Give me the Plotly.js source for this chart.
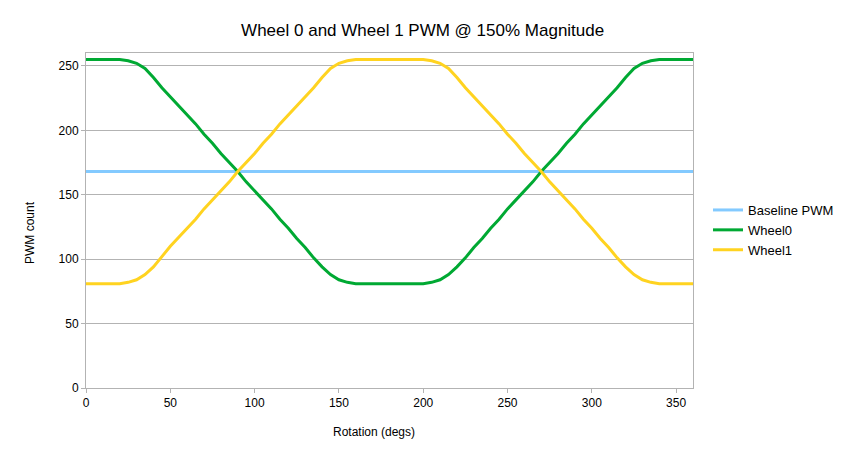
<!DOCTYPE html>
<html>
<head>
<meta charset="utf-8">
<script src="https://cdn.plot.ly/plotly-3.0.1.min.js"></script>
<style>
  html, body { margin: 0; padding: 0; background: #fff; }
  #chart { width: 847px; height: 460px; }
</style>
</head>
<body>
<div id="chart"></div>
<script>
// rotation angle, degrees
const rotation = [
    0, 5, 10, 15, 20, 25, 30, 35, 40, 45, 50, 55, 60, 65, 70, 75, 80, 85, 90,
    95, 100, 105, 110, 115, 120, 125, 130, 135, 140, 145, 150, 155, 160, 165, 170, 175, 180,
    185, 190, 195, 200, 205, 210, 215, 220, 225, 230, 235, 240, 245, 250, 255, 260, 265, 270,
    275, 280, 285, 290, 295, 300, 305, 310, 315, 320, 325, 330, 335, 340, 345, 350, 355, 360
];

const baselineX = [0, 360];
const baselinePwm = [168, 168];

const wheel0 = [
    255, 255, 255, 255, 255, 254, 252, 248, 241, 233, 226, 219, 212, 205, 197, 190, 182, 175, 168,
    160, 153, 146, 139, 131, 124, 116, 109, 101, 94, 88, 84, 82, 81, 81, 81, 81, 81,
    81, 81, 81, 81, 82, 84, 88, 94, 101, 109, 116, 124, 131, 139, 146, 153, 160, 168,
    175, 182, 190, 197, 205, 212, 219, 226, 233, 241, 248, 252, 254, 255, 255, 255, 255, 255
];

const wheel1 = [
    81, 81, 81, 81, 81, 82, 84, 88, 94, 102, 110, 117, 124, 131, 139, 146, 153, 160, 168,
    175, 182, 190, 197, 205, 212, 219, 226, 233, 241, 248, 252, 254, 255, 255, 255, 255, 255,
    255, 255, 255, 255, 254, 252, 248, 241, 233, 226, 219, 212, 205, 197, 190, 182, 175, 168,
    160, 153, 146, 139, 131, 124, 116, 109, 101, 94, 88, 84, 82, 81, 81, 81, 81, 81
];

const font_family = "'Liberation Sans', Arial, sans-serif";

let traces = [
    {
        x: baselineX,
        y: baselinePwm,
        type: "scatter",
        mode: "lines",
        name: "Baseline PWM",
        line: {color: "#83caff", width: 3}
    },
    {
        x: rotation,
        y: wheel0,
        type: "scatter",
        mode: "lines",
        name: "Wheel0",
        line: {color: "#00a933", width: 3}
    },
    {
        x: rotation,
        y: wheel1,
        type: "scatter",
        mode: "lines",
        name: "Wheel1",
        line: {color: "#ffd320", width: 3}
    }
];

let axis_common = {
    gridcolor: "#b3b3b3",
    gridwidth: 1,
    showline: true,
    linecolor: "#b3b3b3",
    linewidth: 1,
    mirror: true,
    ticks: "outside",
    ticklen: 4,
    tickcolor: "#b3b3b3",
    zeroline: false,
    automargin: false,
    tickfont: {family: font_family, size: 12, color: "#000"}
};

let layout = {
    width: 847,
    height: 460,
    paper_bgcolor: "#fff",
    plot_bgcolor: "#fff",
    font: {family: font_family, color: "#000"},
    margin: {l: 86, r: 154, t: 53, b: 72, pad: 0, autoexpand: false},
    title: {
        text: "Wheel 0 and Wheel 1 PWM @ 150% Magnitude",
        font: {family: font_family, size: 17, color: "#000"},
        xref: "container",
        yref: "container",
        x: 0.499,
        xanchor: "center",
        y: 1 - 30 / 460,
        yanchor: "middle"
    },
    xaxis: Object.assign({}, axis_common, {
        showgrid: false,
        range: [0, 360],
        dtick: 50,
        tick0: 0
    }),
    yaxis: Object.assign({}, axis_common, {
        showgrid: true,
        range: [0, 260],
        dtick: 50,
        tick0: 0
    }),
    legend: {
        xref: "container",
        x: 708 / 847,
        xanchor: "left",
        y: (388 - 230) / 335,
        yanchor: "middle",
        font: {family: font_family, size: 13, color: "#000"},
        bgcolor: "rgba(0,0,0,0)",
        tracegroupgap: 0
    },
    annotations: [
        {
            text: "Rotation (degs)",
            xref: "paper",
            yref: "paper",
            x: (374 - 86) / 607,
            y: -(432 - 388) / 335,
            xanchor: "center",
            yanchor: "middle",
            showarrow: false,
            font: {family: font_family, size: 12, color: "#000"}
        },
        {
            text: "PWM count",
            xref: "paper",
            yref: "paper",
            x: -(86 - 30) / 607,
            y: (388 - 233) / 335,
            xanchor: "center",
            yanchor: "middle",
            textangle: -90,
            showarrow: false,
            font: {family: font_family, size: 12, color: "#000"}
        }
    ]
};

Plotly.newPlot("chart", traces, layout, {displayModeBar: false, staticPlot: true});
</script>
</body>
</html>
